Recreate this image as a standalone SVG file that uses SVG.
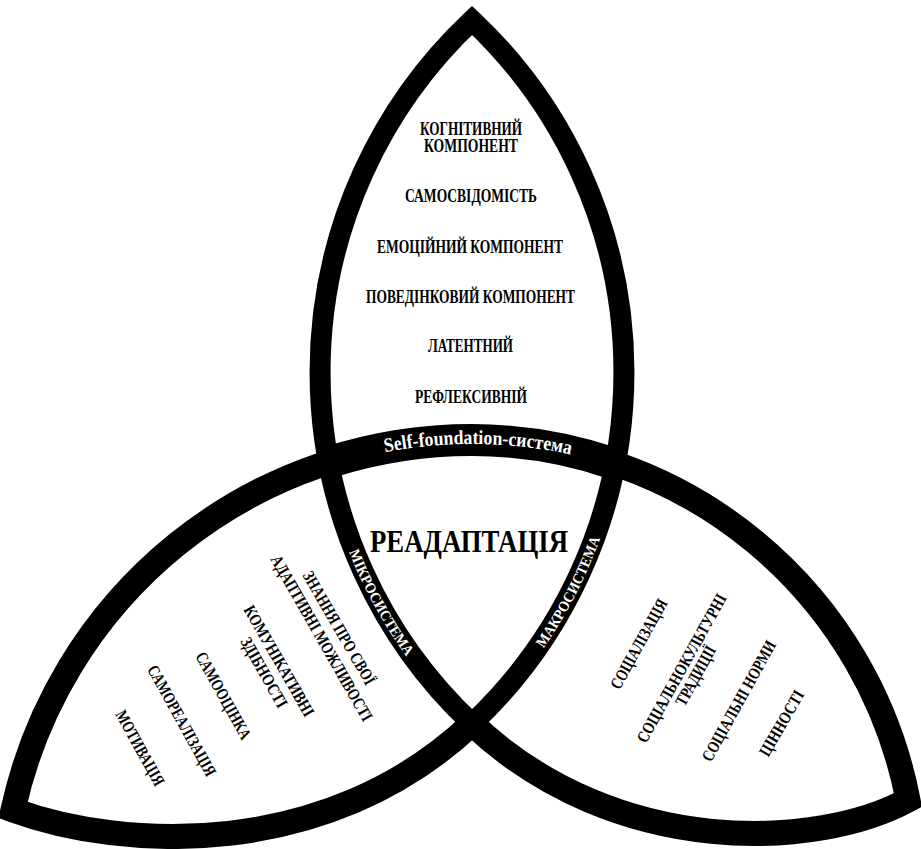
<svg xmlns="http://www.w3.org/2000/svg" width="921" height="849" viewBox="0 0 921 849">
<style>
.band{fill:none;stroke:#000;stroke-linejoin:miter;stroke-miterlimit:20;stroke-linecap:butt}
.t{font-family:"Liberation Serif","Times New Roman",serif;font-weight:bold;fill:#000;font-size:18px;text-anchor:middle}
.r{font-family:"Liberation Serif","Times New Roman",serif;font-weight:bold;fill:#000;font-size:17px;text-anchor:middle}
.w{font-family:"Liberation Serif","Times New Roman",serif;font-weight:bold;fill:#fff}
</style>
<defs>
<path id="pSelf" d="M 385 452.2 A 466 466 0 0 1 572 454.9"/>
<path id="pMikro" d="M 348.2 550 A 488.5 488.5 0 0 0 409 660"/>
<path id="pMakro" d="M 542.4 650 A 488.5 488.5 0 0 0 601 536"/>
</defs>
<rect width="921" height="849" fill="#fff"/>
<g id="connectors">
<path id="band-top" class="band" stroke-width="21" d="M 472 723.7 A 483 483 0 0 0 472 20.3 A 483 483 0 0 0 472 723.7"/>
<path id="band-lower" class="band" stroke-width="25" d="M 472 723.7 C 326.4 861 122 850 13 810 A 470 470 0 0 1 472 440 A 444 444 0 0 1 908 800 C 820 848 617.6 861 472 723.7"/>
<path id="band-self" class="band" stroke-width="32" d="M 329 462.3 A 470 470 0 0 1 472 440 A 444 444 0 0 1 615 464"/>
<text class="w" font-size="20"><textPath href="#pSelf" textLength="187" lengthAdjust="spacingAndGlyphs">Self-foundation-система</textPath></text>
<text class="w" font-size="15"><textPath href="#pMikro" startOffset="2" textLength="120" lengthAdjust="spacingAndGlyphs">МІКРОСИСТЕМА</textPath></text>
<text class="w" font-size="15"><textPath href="#pMakro" startOffset="2" textLength="124" lengthAdjust="spacingAndGlyphs">МАКРОСИСТЕМА</textPath></text>
</g>
<g id="node-top">
<text class="t" x="471" y="135" textLength="102" lengthAdjust="spacingAndGlyphs">КОГНІТИВНИЙ</text>
<text class="t" x="471" y="152" textLength="94" lengthAdjust="spacingAndGlyphs">КОМПОНЕНТ</text>
<text class="t" x="471" y="202" textLength="132" lengthAdjust="spacingAndGlyphs">САМОСВІДОМІСТЬ</text>
<text class="t" x="470" y="253" textLength="186" lengthAdjust="spacingAndGlyphs">ЕМОЦІЙНИЙ КОМПОНЕНТ</text>
<text class="t" x="470.5" y="303" textLength="209" lengthAdjust="spacingAndGlyphs">ПОВЕДІНКОВИЙ КОМПОНЕНТ</text>
<text class="t" x="470.5" y="352" textLength="85" lengthAdjust="spacingAndGlyphs">ЛАТЕНТНИЙ</text>
<text class="t" x="471" y="403" textLength="112" lengthAdjust="spacingAndGlyphs">РЕФЛЕКСИВНІЙ</text>
</g>
<g id="node-center">
<text class="t" x="469" y="552" textLength="198" lengthAdjust="spacingAndGlyphs" style="font-size:31px">РЕАДАПТАЦІЯ</text>
</g>
<g id="node-left">
<text class="r" transform="translate(339 628) rotate(60)" y="5.5" textLength="128" lengthAdjust="spacingAndGlyphs">ЗНАННЯ ПРО СВОЇ</text>
<text class="r" transform="translate(321.7 638.3) rotate(60.3)" y="5.5" textLength="188" lengthAdjust="spacingAndGlyphs">АДАПТИВНІ МОЖЛИВОСТІ</text>
<text class="r" transform="translate(279 661) rotate(60.3)" y="5.5" textLength="125" lengthAdjust="spacingAndGlyphs">КОМУНІКАТИВНІ</text>
<text class="r" transform="translate(264 672.5) rotate(60.5)" y="5.5" textLength="78" lengthAdjust="spacingAndGlyphs">ЗДІБНОСТІ</text>
<text class="r" transform="translate(223.3 695.8) rotate(61)" y="5.5" textLength="97" lengthAdjust="spacingAndGlyphs">САМООЦІНКА</text>
<text class="r" transform="translate(181.7 720.8) rotate(61)" y="5.5" textLength="124" lengthAdjust="spacingAndGlyphs">САМОРЕАЛІЗАЦІЯ</text>
<text class="r" transform="translate(140 748) rotate(61)" y="5.5" textLength="83.5" lengthAdjust="spacingAndGlyphs">МОТИВАЦІЯ</text>
</g>
<g id="node-right">
<text class="r" transform="translate(639 644) rotate(-61)" y="5.5" textLength="100" lengthAdjust="spacingAndGlyphs">СОЦІАЛІЗАЦІЯ</text>
<text class="r" transform="translate(681.7 668.3) rotate(-61)" y="5.5" textLength="167" lengthAdjust="spacingAndGlyphs">СОЦІАЛЬНОКУЛЬТУРНІ</text>
<text class="r" transform="translate(695.8 675.8) rotate(-61)" y="5.5" textLength="66" lengthAdjust="spacingAndGlyphs">ТРАДИЦІЇ</text>
<text class="r" transform="translate(739 701) rotate(-61)" y="5.5" textLength="135" lengthAdjust="spacingAndGlyphs">СОЦІАЛЬНІ НОРМИ</text>
<text class="r" transform="translate(781.7 723.3) rotate(-60)" y="5.5" textLength="73" lengthAdjust="spacingAndGlyphs">ЦІННОСТІ</text>
</g>
</svg>
